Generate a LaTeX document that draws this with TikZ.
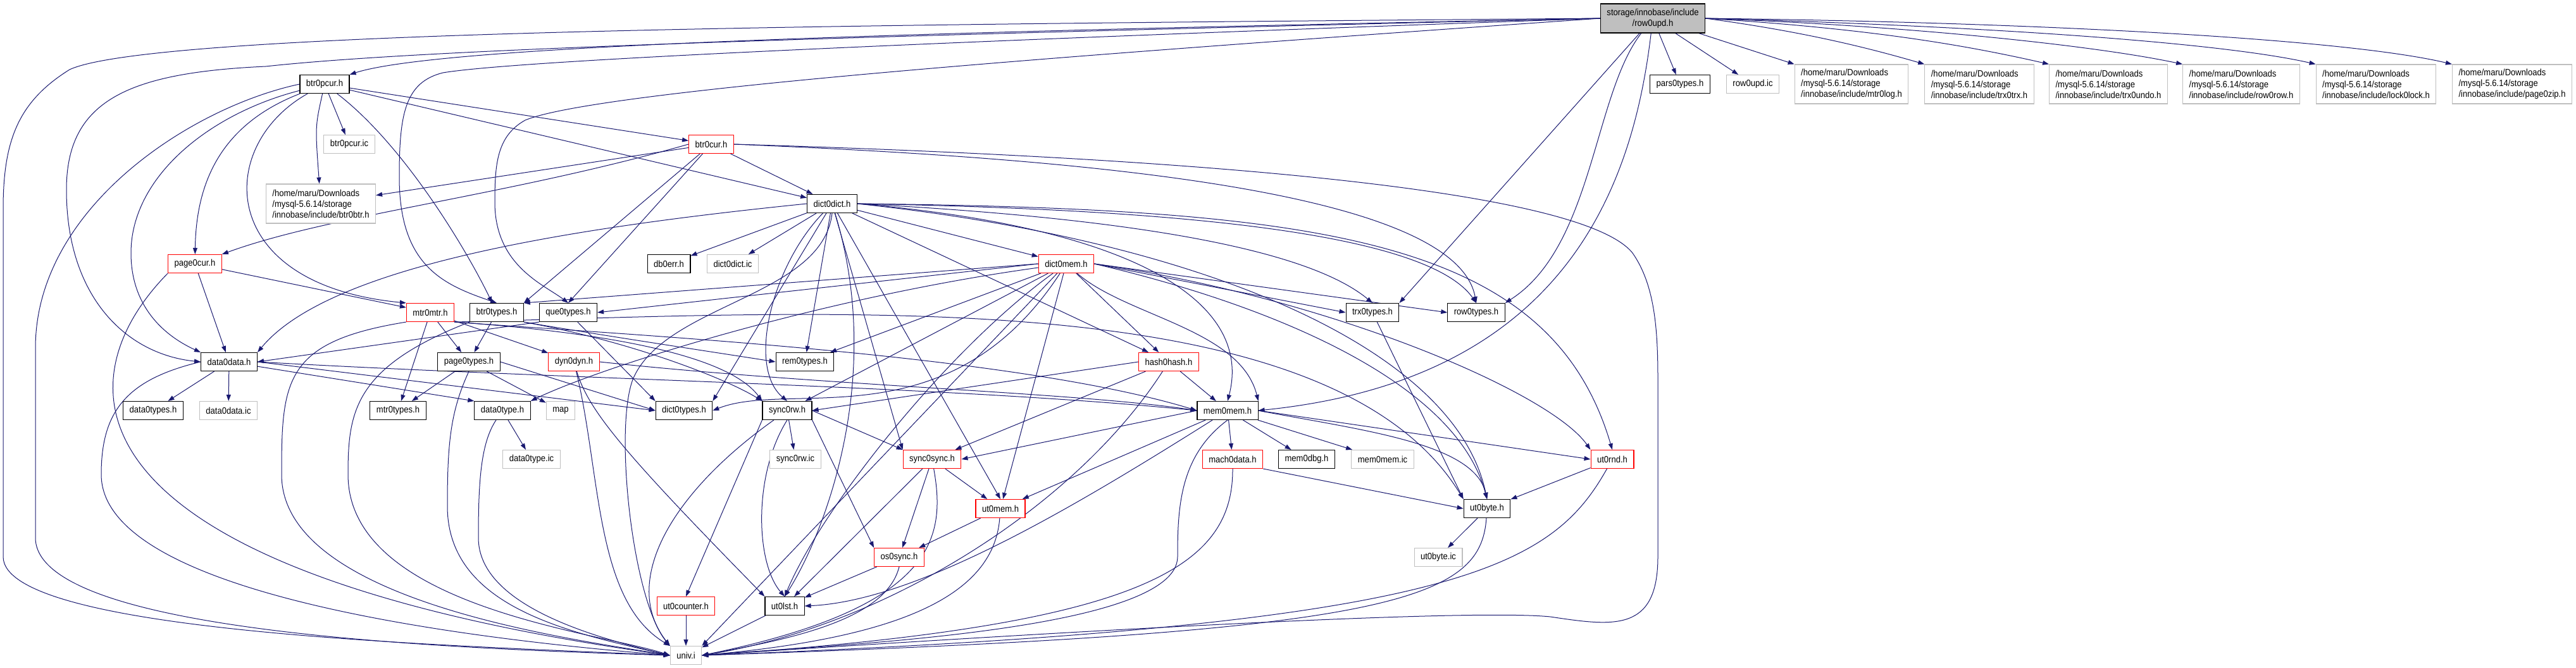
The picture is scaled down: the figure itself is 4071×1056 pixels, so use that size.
\documentclass[tikz,border=0pt]{standalone}
\usepackage{fontspec}
\newfontfamily\dxfont{Liberation Sans}[FakeStretch=0.9]
\usepackage{tikz}
\usetikzlibrary{arrows.meta,backgrounds}
\definecolor{edgeblue}{RGB}{25,25,112}
\definecolor{docgray}{RGB}{191,191,191}
\tikzset{
  hdr/.style={draw=black, fill=white, line width=1.1pt, inner xsep=10pt, inner ysep=0pt,
              minimum height=29pt, font=\dxfont\fontsize{14.5}{17}\selectfont},
  hdrred/.style={hdr, draw=red},
  hdrgray/.style={hdr, draw=docgray},
  hdrpath/.style={hdrgray, align=left, minimum height=62pt},
  hdrroot/.style={hdr, fill=docgray, align=center, minimum height=46pt},
  incl/.style={draw=edgeblue, line width=1pt, -{Triangle[length=10pt,width=7pt]}}
}
\begin{document}
\begin{tikzpicture}[x=1pt,y=-1pt]
  \useasboundingbox (0,0) rectangle (4071,1056);
  % top row
  \node[hdrroot] (row0upd) at (2612,29) {storage/innobase/include\\/row0upd.h};
  \node[hdr] (btr0pcur) at (513,133) {btr0pcur.h};
  \node[hdr] (pars0types) at (2655,133) {pars0types.h};
  \node[hdrgray] (row0updic) at (2770,133) {row0upd.ic};
  \node[hdrpath] (mtr0log) at (2926,133) {/home/maru/Downloads\\/mysql-5.6.14/storage\\/innobase/include/mtr0log.h};
  \node[hdrpath] (trx0trx) at (3128,133) {/home/maru/Downloads\\/mysql-5.6.14/storage\\/innobase/include/trx0trx.h};
  \node[hdrpath] (trx0undo) at (3332,133) {/home/maru/Downloads\\/mysql-5.6.14/storage\\/innobase/include/trx0undo.h};
  \node[hdrpath] (row0row) at (3542,133) {/home/maru/Downloads\\/mysql-5.6.14/storage\\/innobase/include/row0row.h};
  \node[hdrpath] (lock0lock) at (3755,133) {/home/maru/Downloads\\/mysql-5.6.14/storage\\/innobase/include/lock0lock.h};
  \node[hdrpath] (page0zip) at (3970,133) {/home/maru/Downloads\\/mysql-5.6.14/storage\\/innobase/include/page0zip.h};
  % second and third rows
  \node[hdrgray] (btr0pcuric) at (552,228) {btr0pcur.ic};
  \node[hdrred] (btr0cur) at (1124,228) {btr0cur.h};
  \node[hdrpath] (btr0btr) at (507,322) {/home/maru/Downloads\\/mysql-5.6.14/storage\\/innobase/include/btr0btr.h};
  \node[hdr] (dict0dict) at (1315,322) {dict0dict.h};
  \node[hdrred] (page0cur) at (308,417) {page0cur.h};
  \node[hdr] (db0err) at (1057,417) {db0err.h};
  \node[hdrgray] (dict0dictic) at (1158,417) {dict0dict.ic};
  \node[hdrred] (dict0mem) at (1685,417) {dict0mem.h};
  % types row
  \node[hdrred] (mtr0mtr) at (680,494) {mtr0mtr.h};
  \node[hdr] (btr0types) at (785,494) {btr0types.h};
  \node[hdr] (que0types) at (898,494) {que0types.h};
  \node[hdr] (trx0types) at (2169,494) {trx0types.h};
  \node[hdr] (row0types) at (2333,494) {row0types.h};
  \node[hdr] (data0data) at (362,572) {data0data.h};
  \node[hdr] (page0types) at (741,572) {page0types.h};
  \node[hdrred] (dyn0dyn) at (907,572) {dyn0dyn.h};
  \node[hdr] (rem0types) at (1272,572) {rem0types.h};
  \node[hdrred] (hash0hash) at (1847,572) {hash0hash.h};
  \node[hdr] (data0types) at (242,649) {data0types.h};
  \node[hdrgray] (data0dataic) at (361,649) {data0data.ic};
  \node[hdr] (mtr0types) at (629,649) {mtr0types.h};
  \node[hdr] (data0type) at (794,649) {data0type.h};
  \node[hdrgray] (map) at (886,649) {map};
  \node[hdr] (dict0types) at (1081,649) {dict0types.h};
  \node[hdr] (sync0rw) at (1244,649) {sync0rw.h};
  \node[hdr] (mem0mem) at (1940,649) {mem0mem.h};
  % lower part
  \node[hdrgray] (data0typeic) at (840,726) {data0type.ic};
  \node[hdrgray] (sync0rwic) at (1257,726) {sync0rw.ic};
  \node[hdrred] (sync0sync) at (1473,726) {sync0sync.h};
  \node[hdrred] (mach0data) at (1948,726) {mach0data.h};
  \node[hdr] (mem0dbg) at (2065,726) {mem0dbg.h};
  \node[hdrgray] (mem0memic) at (2185,726) {mem0mem.ic};
  \node[hdrred] (ut0rnd) at (2548,726) {ut0rnd.h};
  \node[hdrred] (ut0mem) at (1581,804) {ut0mem.h};
  \node[hdr] (ut0byte) at (2350,804) {ut0byte.h};
  \node[hdrred] (os0sync) at (1421,881) {os0sync.h};
  \node[hdrgray] (ut0byteic) at (2273,881) {ut0byte.ic};
  \node[hdrred] (ut0counter) at (1084,958) {ut0counter.h};
  \node[hdr] (ut0lst) at (1240,958) {ut0lst.h};
  \node[hdrgray] (univ) at (1084,1036) {univ.i};

  \begin{scope}[on background layer]
  % row0upd.h
  \draw[incl] (row0upd.west) .. controls (1500,38) and (250,45) .. (110,110) .. controls (30,160) and (5,220) .. (5,330) -- (5,880) .. controls (5,1000) and (700,1020) .. (univ.west);
  \draw[incl] (row0upd.west) .. controls (1200,60) and (650,80) .. (420,105) .. controls (200,115) and (105,160) .. (105,300) .. controls (105,470) and (200,560) .. (data0data.west);
  \draw[incl] (row0upd.west) .. controls (1500,50) and (700,70) .. (btr0pcur.north east);
  \draw[incl] (row0upd.west) .. controls (1500,65) and (820,95) .. (700,115) .. controls (640,130) and (631,180) .. (631,280) .. controls (631,420) and (700,450) .. (btr0types.north);
  \draw[incl] (row0upd.west) .. controls (1800,80) and (950,140) .. (830,190) .. controls (785,215) and (782,260) .. (782,320) .. controls (782,420) and (860,450) .. (que0types.north);
  \draw[incl] (row0upd) -- (trx0types.north east);
  \draw[incl] (row0upd) .. controls (2518,150) and (2518,390) .. (row0types.north east);
  \draw[incl] (row0upd) .. controls (2580,300) and (2470,600) .. (mem0mem.east);
  \draw[incl] (row0upd) -- (pars0types);
  \draw[incl] (row0upd) -- (row0updic);
  \draw[incl] (row0upd) -- (mtr0log.north west);
  \draw[incl] (row0upd.east) .. controls (2850,50) and (2950,75) .. (trx0trx.north west);
  \draw[incl] (row0upd.east) .. controls (2950,45) and (3100,70) .. (trx0undo.north west);
  \draw[incl] (row0upd.east) .. controls (3000,40) and (3300,70) .. (row0row.north west);
  \draw[incl] (row0upd.east) .. controls (3100,40) and (3500,65) .. (lock0lock.north west);
  \draw[incl] (row0upd.east) .. controls (3200,35) and (3700,60) .. (page0zip.north west);
  % btr0pcur.h
  \draw[incl] (btr0pcur.west) .. controls (300,170) and (56,330) .. (56,550) -- (56,850) .. controls (56,1000) and (700,1025) .. (univ.west);
  \draw[incl] (btr0pcur) .. controls (330,180) and (207,280) .. (207,400) .. controls (207,500) and (280,540) .. (data0data.north west);
  \draw[incl] (btr0pcur) .. controls (340,200) and (310,300) .. (page0cur);
  \draw[incl] (btr0pcur) .. controls (340,230) and (340,450) .. (mtr0mtr.north west);
  \draw[incl] (btr0pcur) .. controls (498,200) .. (btr0btr);
  \draw[incl] (btr0pcur) -- (btr0pcuric);
  \draw[incl] (btr0pcur) .. controls (640,230) and (740,400) .. (btr0types);
  \draw[incl] (btr0pcur) -- (btr0cur);
  \draw[incl] (btr0pcur) -- (dict0dict);
  % btr0cur.h
  \draw[incl] (btr0cur) -- (btr0btr);
  \draw[incl] (btr0cur.west) .. controls (800,310) and (520,340) .. (page0cur.north east);
  \draw[incl] (btr0cur) -- (dict0dict);
  \draw[incl] (btr0cur) -- (btr0types.north east);
  \draw[incl] (btr0cur) -- (que0types.north);
  \draw[incl] (btr0cur.east) .. controls (1700,250) and (2300,300) .. (row0types.north);
  \draw[incl] (btr0cur.east) .. controls (1900,250) and (2500,300) .. (2580,400) .. controls (2615,450) and (2620,520) .. (2620,600) -- (2620,880) .. controls (2620,1000) and (2550,990) .. (2450,975) .. controls (2300,960) and (1500,1010) .. (univ.east);
  % dict0dict.h
  \draw[incl] (dict0dict.south) .. controls (1300,470) and (1050,480) .. (1000,600) .. controls (970,680) and (1000,950) .. (univ.north west);
  \draw[incl] (dict0dict.west) .. controls (900,360) and (520,420) .. (data0data.north east);
  \draw[incl] (dict0dict) -- (dict0mem);
  \draw[incl] (dict0dict) -- (dict0types.north east);
  \draw[incl] (dict0dict) -- (db0err);
  \draw[incl] (dict0dict) -- (dict0dictic);
  \draw[incl] (dict0dict) -- (sync0sync.north west);
  \draw[incl] (dict0dict) .. controls (1220,420) and (1180,580) .. (sync0rw.north);
  \draw[incl] (dict0dict.east) .. controls (1800,360) and (1980,480) .. (mem0mem.north);
  \draw[incl] (dict0dict) -- (rem0types);
  \draw[incl] (dict0dict) -- (ut0mem.north);
  \draw[incl] (dict0dict) .. controls (1400,600) and (1300,850) .. (ut0lst.north);
  \draw[incl] (dict0dict) -- (hash0hash);
  \draw[incl] (dict0dict.east) .. controls (2100,330) and (2450,380) .. (ut0rnd.north);
  \draw[incl] (dict0dict.east) .. controls (1900,380) and (2300,550) .. (ut0byte.north);
  \draw[incl] (dict0dict.east) .. controls (1700,340) and (2050,380) .. (trx0types.north);
  \draw[incl] (dict0dict.east) .. controls (1800,330) and (2250,360) .. (row0types.north);
  % dict0mem.h
  \draw[incl] (dict0mem) -- (univ.north east);
  \draw[incl] (dict0mem) .. controls (1300,470) and (950,580) .. (data0type.north east);
  \draw[incl] (dict0mem) .. controls (1780,500) and (1960,520) .. (mem0mem.north east);
  \draw[incl] (dict0mem) -- (rem0types);
  \draw[incl] (dict0mem.west) -- (btr0types.north east);
  \draw[incl] (dict0mem.west) -- (que0types.east);
  \draw[incl] (dict0mem) -- (sync0rw);
  \draw[incl] (dict0mem) -- (ut0mem);
  \draw[incl] (dict0mem) .. controls (1500,550) and (1300,800) .. (ut0lst.north);
  \draw[incl] (dict0mem.east) .. controls (2100,470) and (2450,620) .. (ut0rnd.north west);
  \draw[incl] (dict0mem.east) .. controls (2000,480) and (2300,600) .. (ut0byte.north);
  \draw[incl] (dict0mem) -- (hash0hash);
  \draw[incl] (dict0mem.east) -- (trx0types.west);
  \draw[incl] (dict0mem.east) -- (row0types.west);
  \draw[incl] (dict0mem) .. controls (1500,700) and (1250,600) .. (dict0types.east);
  % page0cur.h
  \draw[incl] (page0cur.south west) .. controls (100,600) and (80,900) .. (univ.west);
  \draw[incl] (page0cur) -- (data0data);
  \draw[incl] (page0cur) -- (mtr0mtr);
  % mtr0mtr.h
  \draw[incl] (mtr0mtr.south west) .. controls (450,540) and (445,600) .. (445,750) .. controls (445,950) and (900,1010) .. (univ.west);
  \draw[incl] (mtr0mtr.south east) .. controls (1000,530) and (1600,560) .. (mem0mem.west);
  \draw[incl] (mtr0mtr) -- (dyn0dyn);
  \draw[incl] (mtr0mtr.south east) .. controls (950,525) and (1150,560) .. (sync0rw.north west);
  \draw[incl] (mtr0mtr.south east) .. controls (1300,495) and (2100,440) .. (ut0byte.north west);
  \draw[incl] (mtr0mtr) -- (mtr0types);
  \draw[incl] (mtr0mtr) -- (page0types);
  % btr0types.h, que0types.h, trx0types.h
  \draw[incl] (btr0types.south west) .. controls (560,580) and (550,650) .. (550,750) .. controls (550,960) and (950,1000) .. (univ.west);
  \draw[incl] (btr0types) -- (page0types);
  \draw[incl] (btr0types.south east) .. controls (950,530) and (1150,560) .. (rem0types.west);
  \draw[incl] (btr0types.south east) .. controls (1000,540) and (1150,600) .. (sync0rw.north west);
  \draw[incl] (que0types.south west) -- (data0data.east);
  \draw[incl] (que0types) -- (dict0types.north west);
  \draw[incl] (trx0types) -- (ut0byte.north west);
  % data0data.h, page0types.h, dyn0dyn.h
  \draw[incl] (data0data.west) .. controls (200,600) and (160,650) .. (160,750) .. controls (160,950) and (800,1015) .. (univ.west);
  \draw[incl] (data0data) -- (data0types);
  \draw[incl] (data0data) -- (data0dataic);
  \draw[incl] (data0data) -- (data0type.north west);
  \draw[incl] (data0data.east) -- (dict0types.west);
  \draw[incl] (data0data.east) .. controls (900,600) and (1500,610) .. (mem0mem.west);
  \draw[incl] (page0types.south) .. controls (712,650) and (707,700) .. (707,800) .. controls (707,960) and (900,1000) .. (univ.west);
  \draw[incl] (page0types) -- (mtr0types);
  \draw[incl] (page0types.east) -- (dict0types.west);
  \draw[incl] (page0types) -- (map);
  \draw[incl] (dyn0dyn) .. controls (950,750) and (940,950) .. (univ.north west);
  \draw[incl] (dyn0dyn) .. controls (930,650) and (990,720) .. (ut0lst.north west);
  \draw[incl] (dyn0dyn.east) .. controls (1300,610) and (1700,620) .. (mem0mem.west);
  % hash0hash.h, data0type.h, sync0rw.h
  \draw[incl] (hash0hash) .. controls (1700,800) and (1400,990) .. (univ.east);
  \draw[incl] (hash0hash) -- (mem0mem);
  \draw[incl] (hash0hash) -- (sync0sync);
  \draw[incl] (hash0hash.west) -- (sync0rw.east);
  \draw[incl] (data0type) .. controls (760,700) and (756,760) .. (756,850) .. controls (756,960) and (950,1010) .. (univ.west);
  \draw[incl] (data0type) -- (data0typeic);
  \draw[incl] (sync0rw) .. controls (1060,780) and (980,920) .. (univ.north west);
  \draw[incl] (sync0rw.south west) -- (ut0counter.north);
  \draw[incl] (sync0rw.south) .. controls (1190,750) and (1194,890) .. (ut0lst.north);
  \draw[incl] (sync0rw) -- (sync0rwic);
  \draw[incl] (sync0rw.south east) -- (os0sync.north west);
  \draw[incl] (sync0rw.east) -- (sync0sync.north west);
  % mem0mem.h
  \draw[incl] (mem0mem.west) -- (sync0sync.east);
  \draw[incl] (mem0mem) -- (ut0mem);
  \draw[incl] (mem0mem) .. controls (1700,800) and (1450,950) .. (ut0lst.east);
  \draw[incl] (mem0mem.south) .. controls (1865,720) and (1861,800) .. (1861,880) .. controls (1861,1000) and (1300,1020) .. (univ.east);
  \draw[incl] (mem0mem) -- (mach0data);
  \draw[incl] (mem0mem) -- (mem0dbg);
  \draw[incl] (mem0mem) -- (mem0memic);
  \draw[incl] (mem0mem.east) .. controls (2150,680) and (2330,700) .. (ut0byte.north);
  \draw[incl] (mem0mem.east) -- (ut0rnd.west);
  % sync0sync.h and below
  \draw[incl] (sync0sync) .. controls (1495,850) and (1480,960) .. (univ.east);
  \draw[incl] (sync0sync) -- (ut0lst);
  \draw[incl] (sync0sync) -- (os0sync);
  \draw[incl] (sync0sync) -- (ut0mem);
  \draw[incl] (mach0data.south) .. controls (1949,900) and (1800,990) .. (univ.east);
  \draw[incl] (mach0data.south east) -- (ut0byte.west);
  \draw[incl] (ut0rnd) -- (ut0byte);
  \draw[incl] (ut0rnd) .. controls (2450,900) and (2300,990) .. (univ.east);
  \draw[incl] (ut0mem) -- (os0sync);
  \draw[incl] (ut0mem) .. controls (1570,950) and (1400,1010) .. (univ.east);
  \draw[incl] (ut0byte) -- (ut0byteic);
  \draw[incl] (ut0byte) .. controls (2340,950) and (2200,1000) .. (univ.east);
  \draw[incl] (os0sync) -- (ut0lst);
  \draw[incl] (os0sync.south) .. controls (1400,980) and (1250,1010) .. (univ.east);
  \draw[incl] (ut0counter) -- (univ);
  \draw[incl] (ut0lst) -- (univ);
  \end{scope}
\end{tikzpicture}
\end{document}
